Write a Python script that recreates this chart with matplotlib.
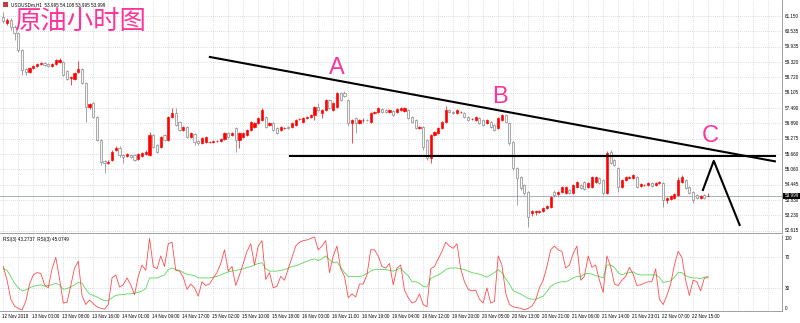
import matplotlib.pyplot as plt
from matplotlib.patches import Rectangle
import numpy as np

# hourly bars, USOUSD H1, 12 Nov 2018 .. 22 Nov 2018
opens = [61.11, 60.87, 60.99, 60.71, 60.47, 59.80, 59.04, 58.92, 59.08, 59.16,
         59.24, 59.28, 59.24, 59.16, 59.24, 59.32, 59.32, 58.96, 58.69, 58.65,
         58.92, 59.04, 58.49, 57.53, 57.69, 57.14, 56.22, 55.39, 55.31, 55.43,
         55.82, 55.90, 55.62, 55.59, 55.62, 55.62, 55.47, 55.59, 55.66, 55.62,
         56.42, 56.02, 55.94, 56.42, 56.22, 57.14, 57.29, 56.94, 56.62, 56.74,
         56.34, 56.46, 56.18, 56.10, 56.14, 56.14, 56.14, 56.16, 56.18, 56.26,
         56.50, 56.42, 56.70, 56.22, 56.34, 56.42, 56.62, 56.74, 56.90, 57.02,
         57.14, 56.82, 56.90, 56.70, 56.62, 56.70, 56.74, 56.74, 56.82, 57.06,
         56.94, 57.10, 57.14, 57.21, 57.53, 57.29, 57.41, 57.81, 57.41, 57.53,
         58.09, 58.09, 57.81, 56.90, 57.10, 56.90, 57.02, 57.03, 56.94, 57.29,
         57.33, 57.45, 57.41, 57.33, 57.37, 57.33, 57.41, 57.37, 57.41, 57.14,
         57.02, 56.70, 56.74, 56.22, 55.51, 56.42, 56.50, 56.70, 56.94, 57.41,
         57.33, 57.29, 57.33, 57.29, 57.14, 57.06, 57.02, 57.10, 57.02, 56.90,
         56.94, 56.82, 56.70, 57.02, 57.21, 56.90, 56.14, 55.11, 54.75, 54.43,
         54.15, 53.32, 53.36, 53.36, 53.40, 53.52, 53.56, 54.15, 54.07, 54.15,
         54.11, 54.23, 54.11, 54.35, 54.43, 54.55, 54.35, 54.35, 54.55, 54.71,
         54.63, 54.11, 55.74, 55.43, 55.11, 54.35, 54.63, 54.71, 54.71, 54.75,
         54.39, 54.43, 54.43, 54.51, 54.43, 54.51, 54.51, 53.84, 53.88, 53.91,
         54.03, 54.55, 54.63, 54.35, 54.15, 54.03, 53.91, 54.03, 53.995]
highs = [61.31, 61.07, 61.07, 60.79, 60.51, 59.84, 59.08, 59.12, 59.20, 59.28,
         59.32, 59.32, 59.28, 59.28, 59.44, 59.48, 59.36, 59.00, 58.76, 58.92,
         59.36, 59.08, 58.53, 57.69, 57.73, 57.18, 56.26, 55.43, 55.43, 55.82,
         55.98, 55.98, 55.66, 55.70, 55.66, 55.66, 55.70, 55.74, 55.82, 56.54,
         56.46, 56.06, 56.38, 56.46, 57.18, 57.49, 57.49, 56.98, 56.78, 56.78,
         56.54, 56.50, 56.22, 56.34, 56.38, 56.18, 56.22, 56.22, 56.30, 56.54,
         56.54, 56.54, 56.74, 56.54, 56.54, 56.66, 56.98, 56.94, 57.14, 57.49,
         57.18, 56.94, 56.94, 56.74, 56.78, 56.74, 56.78, 56.94, 57.06, 57.10,
         57.14, 57.18, 57.25, 57.57, 57.69, 57.45, 57.85, 57.85, 57.73, 58.13,
         58.13, 58.17, 57.85, 57.06, 57.14, 57.06, 57.10, 57.06, 57.33, 57.37,
         57.53, 57.49, 57.45, 57.45, 57.41, 57.49, 57.53, 57.53, 57.45, 57.18,
         57.06, 56.78, 56.78, 56.26, 56.46, 56.58, 56.74, 56.98, 57.57, 57.45,
         57.37, 57.45, 57.37, 57.33, 57.18, 57.10, 57.18, 57.14, 57.06, 57.06,
         56.98, 56.86, 57.14, 57.25, 57.25, 56.94, 56.18, 55.15, 54.79, 54.47,
         54.19, 53.44, 53.44, 53.44, 53.56, 53.64, 53.99, 54.23, 54.19, 54.39,
         54.39, 54.27, 54.47, 54.59, 54.47, 54.59, 54.55, 54.79, 54.79, 54.75,
         54.67, 55.78, 55.82, 55.47, 55.15, 54.67, 54.79, 54.79, 54.87, 54.79,
         54.51, 54.47, 54.55, 54.55, 54.55, 54.59, 54.55, 53.95, 54.03, 54.11,
         54.75, 54.83, 54.67, 54.39, 54.19, 54.07, 54.03, 54.07, 54.108]
lows = [60.87, 60.79, 60.59, 60.20, 59.72, 58.80, 58.80, 58.88, 59.04, 59.12,
        59.20, 59.16, 59.12, 59.12, 59.20, 59.28, 58.76, 58.61, 58.41, 58.61,
        58.88, 58.45, 56.94, 57.45, 57.10, 56.18, 55.23, 54.91, 55.27, 55.39,
        55.78, 55.55, 55.31, 55.55, 55.51, 55.39, 55.43, 55.55, 55.62, 55.59,
        55.90, 55.70, 55.90, 56.18, 56.18, 57.10, 56.78, 56.58, 56.58, 56.30,
        56.30, 56.02, 56.02, 56.06, 56.10, 56.10, 56.10, 56.13, 56.14, 56.22,
        56.30, 56.38, 55.74, 55.90, 56.30, 56.38, 56.58, 56.70, 56.86, 56.98,
        56.70, 56.78, 56.58, 56.46, 56.58, 56.66, 56.66, 56.70, 56.78, 57.02,
        56.90, 57.06, 57.10, 57.02, 57.37, 57.10, 57.37, 57.45, 57.37, 57.49,
        57.77, 57.93, 56.78, 56.10, 56.50, 56.86, 56.94, 56.98, 56.90, 57.25,
        57.29, 57.29, 57.29, 57.29, 57.17, 57.29, 57.37, 57.33, 57.06, 56.90,
        56.66, 56.66, 55.82, 55.43, 55.31, 56.38, 56.46, 56.66, 56.90, 57.29,
        57.25, 57.25, 57.29, 57.10, 56.98, 57.02, 56.98, 56.86, 56.78, 56.86,
        56.70, 56.58, 56.66, 56.98, 56.90, 56.02, 55.03, 53.64, 54.23, 54.03,
        52.76, 53.20, 53.24, 53.32, 53.36, 53.48, 53.52, 53.95, 54.03, 54.11,
        54.07, 54.07, 54.07, 54.31, 54.27, 54.23, 54.31, 54.31, 54.51, 54.47,
        54.03, 54.07, 55.27, 55.19, 54.15, 54.31, 54.59, 54.67, 54.67, 54.31,
        54.35, 54.39, 54.39, 54.35, 54.39, 54.47, 53.56, 53.72, 53.84, 53.88,
        53.99, 54.51, 54.27, 54.07, 53.72, 53.88, 53.88, 53.88, 53.995]
closes = [60.95, 60.99, 60.71, 60.47, 59.80, 59.00, 58.92, 59.08, 59.16, 59.24,
          59.28, 59.20, 59.16, 59.24, 59.40, 59.40, 58.80, 58.65, 58.72, 58.88,
          59.04, 58.49, 57.53, 57.65, 57.14, 56.22, 55.35, 55.31, 55.35, 55.74,
          55.90, 55.62, 55.55, 55.66, 55.55, 55.43, 55.66, 55.70, 55.74, 56.42,
          55.94, 55.74, 56.34, 56.22, 57.14, 57.29, 56.82, 56.62, 56.74, 56.34,
          56.50, 56.14, 56.10, 56.30, 56.34, 56.15, 56.18, 56.19, 56.26, 56.50,
          56.34, 56.50, 56.22, 56.50, 56.50, 56.62, 56.94, 56.90, 57.10, 57.41,
          56.74, 56.90, 56.62, 56.50, 56.74, 56.71, 56.70, 56.90, 57.02, 57.07,
          57.10, 57.14, 57.21, 57.53, 57.41, 57.41, 57.81, 57.49, 57.69, 58.09,
          57.81, 57.97, 56.90, 57.02, 56.90, 57.02, 57.03, 57.02, 57.29, 57.33,
          57.49, 57.33, 57.33, 57.41, 57.21, 57.45, 57.49, 57.49, 57.10, 56.94,
          56.70, 56.74, 55.94, 55.51, 56.42, 56.54, 56.70, 56.94, 57.41, 57.33,
          57.29, 57.41, 57.34, 57.14, 57.02, 57.07, 57.14, 56.90, 56.82, 57.02,
          56.74, 56.62, 57.10, 57.21, 56.94, 56.10, 55.11, 54.71, 54.31, 54.11,
          53.16, 53.40, 53.40, 53.40, 53.52, 53.60, 53.95, 54.03, 54.15, 54.35,
          54.35, 54.11, 54.43, 54.55, 54.31, 54.27, 54.51, 54.75, 54.75, 54.51,
          54.11, 55.70, 55.31, 55.23, 54.35, 54.63, 54.75, 54.75, 54.83, 54.35,
          54.47, 54.44, 54.51, 54.39, 54.51, 54.55, 53.84, 53.91, 53.99, 54.07,
          54.63, 54.75, 54.31, 54.11, 53.84, 53.91, 53.99, 53.91, 53.999]

rsi_fast = [58, 40, 15, 6, 3, 1, 12, 35, 47, 50,
            49, 34, 30, 55, 70, 42, 10, 11, 33, 56,
            65, 20, 8, 14, 9, 5, 3, 2, 8, 43,
            47, 31, 34, 43, 34, 21, 45, 60, 53, 95,
            58, 55, 72, 58, 88, 90, 53, 52, 44, 28,
            35, 30, 19, 38, 33, 35, 43, 50, 62, 80,
            52, 58, 33, 47, 62, 78, 88, 60, 85, 92,
            41, 50, 30, 32, 45, 40, 55, 70, 85, 90,
            92, 93, 95, 97, 80, 85, 92, 50, 72, 85,
            55, 45, 17, 22, 18, 35, 35, 47, 80, 80,
            72, 58, 56, 62, 34, 56, 60, 27, 17, 10,
            12, 22, 8, 5, 55, 58, 68, 78, 90, 85,
            82, 88, 55, 38, 28, 26, 27, 15, 10, 30,
            10, 12, 72, 60, 23, 8, 5, 4, 3, 1,
            3, 6, 14, 30, 40, 58, 80, 85, 80, 78,
            56, 60, 75, 85, 40, 45, 72, 57, 60, 40,
            24, 72, 58, 35, 33, 40, 45, 57, 48, 33,
            34, 36, 38, 38, 55, 15, 8, 20, 35, 60,
            78, 70, 40, 20, 40, 38, 26, 43, 43.27]
rsi_slow = [55, 53, 45, 36, 30, 26, 27, 30, 32, 33,
            34, 32, 33, 34, 36, 34, 28, 29, 31, 34,
            37, 36, 28, 22, 20, 18, 15, 13, 13, 17,
            20, 21, 21, 22, 22, 23, 24, 26, 29, 43,
            43, 43, 45, 47, 54, 56, 54, 53, 50, 48,
            47, 46, 43, 43, 43, 43, 44, 45, 47, 49,
            51, 52, 53, 54, 55, 57, 58, 60, 62, 63,
            55, 52, 52, 52, 53, 54, 56, 58, 59, 61,
            63, 65, 67, 68, 66, 68, 72, 67, 63, 64,
            57, 50, 45, 45, 45, 45, 46, 49, 52, 54,
            54, 54, 54, 53, 52, 54, 56, 50, 46, 38,
            38, 36, 32, 31, 42, 45, 47, 50, 54, 56,
            56, 56, 55, 54, 52, 50, 49, 48, 46, 44,
            47, 50, 54, 50, 42, 35, 26, 24, 22, 19,
            16, 15, 15, 17, 19, 25, 32, 35, 37, 38,
            38, 40, 43, 45, 45, 48, 49, 48, 46, 45,
            43, 60, 60, 57, 50, 47, 49, 50, 51, 48,
            47, 47, 47, 47, 47, 44, 37, 38, 39, 44,
            50, 50, 46, 44, 43, 43, 42, 44, 45.07]

time_labels = ['12 Nov 2018', '13 Nov 00:00', '13 Nov 08:00', '13 Nov 16:00',
               '14 Nov 01:00', '14 Nov 09:00', '14 Nov 17:00', '15 Nov 02:00',
               '15 Nov 10:00', '15 Nov 18:00', '16 Nov 03:00', '16 Nov 11:00',
               '16 Nov 19:00', '19 Nov 04:00', '19 Nov 12:00', '19 Nov 20:00',
               '20 Nov 05:00', '20 Nov 13:00', '20 Nov 21:00', '21 Nov 06:00',
               '21 Nov 14:00', '21 Nov 23:01', '22 Nov 07:00', '22 Nov 15:00']
price_ticks = [61.150, 60.535, 59.935, 59.320, 58.720, 58.105, 57.490, 56.890,
               56.275, 55.660, 55.060, 54.445, 53.830, 53.230, 52.615]
rsi_ticks = [100, 70, 30, 0]
bid = 53.999

pink = '#ff3399'
red = '#ff0000'
gry = '#808080'
grid_c = '#b8bcc8'
fs = 3.3
small_font = 'Liberation Sans'

W, H = 800.0, 323.0
fig = plt.figure(figsize=(8, 3.23), dpi=100)
fig.patch.set_facecolor('white')

# main price panel and RSI panel (positions in pixels of the 800x323 picture)
ax = fig.add_axes([0, 1 - 233 / H, 782 / W, 233 / H])
ax2 = fig.add_axes([0, 1 - 311 / H, 782 / W, 76 / H])

xmin, xmax = -0.88, 207.7
n = len(closes)
x = np.arange(n)

for a in (ax, ax2):
    a.set_xlim(xmin, xmax)
    a.set_xticks([])
    a.set_yticks([])
    for s in a.spines.values():
        s.set_color('#909090')
        s.set_linewidth(0.6)
    a.spines['left'].set_visible(False)
    a.spines['top'].set_visible(False)
    for gx in np.arange(0, xmax, 4):
        a.axvline(gx, color=grid_c, lw=0.5, ls=(0, (1, 2)), zorder=0)

ax.set_ylim(52.52, 61.786)
ax2.set_ylim(-0.5, 99.5)

for p in price_ticks:
    ax.axhline(p, color=grid_c, lw=0.5, ls=(0, (1, 2)), zorder=0)
for r in (70, 30):
    ax2.axhline(r, color=grid_c, lw=0.5, ls=(0, (1, 2)), zorder=0)

# candles
for i in range(n):
    o, h, l, c = opens[i], highs[i], lows[i], closes[i]
    up = c >= o
    col = red if up else gry
    ax.vlines(i, l, h, color=col, lw=0.5, zorder=2)
    body = max(abs(c - o), 0.012)
    ax.add_patch(Rectangle((i - 0.28, min(o, c)), 0.56, body,
                           facecolor=red if up else '#f4f4f4',
                           edgecolor=col, lw=0.45, zorder=3))

# bid line
ax.axhline(bid, color='#a8b0c0', lw=0.7, zorder=1)

# drawn objects
ax.plot([55.1, 205.8], [59.52, 55.37], color='black', lw=1.5, clip_on=False, zorder=5)
ax.plot([76.5, 205.8], [55.60, 55.60], color='black', lw=1.5, clip_on=False, zorder=5)
ax.plot([186.6, 189.5, 196.4], [54.23, 55.39, 52.84], color='black', lw=1.5,
        clip_on=False, zorder=5)

# RSI lines
ax2.plot(x, rsi_slow, color='#33cc33', lw=0.6, alpha=0.8)
ax2.plot(x, rsi_fast, color='#ff2020', lw=0.6, alpha=0.8)


def px(xp, yp):
    return xp / W, 1 - yp / H


# right scale labels
for p in price_ticks:
    yp = (61.786 - p) / 0.03975
    fig.text(*px(785, yp), '%.3f' % p, fontsize=fs, va='center', ha='left',
             family=small_font)
yb = (61.786 - bid) / 0.03975
fig.patches.append(Rectangle(px(783, yb + 3.2), 17 / W, 6.4 / H, transform=fig.transFigure,
                             facecolor='black', edgecolor='none'))
fig.text(*px(785, yb), '%.3f' % bid, fontsize=fs, va='center', ha='left', color='white',
         family=small_font)
for r in rsi_ticks:
    yp = 311.3 - r * 0.765
    yp = min(max(yp, 238), 308)
    fig.text(*px(785, yp), str(r), fontsize=fs, va='center', ha='left',
             family=small_font)

# time labels
for k, t in enumerate(time_labels):
    xp = 3.3 + 3.75 * 8 * k
    fig.text(*px(xp - 1, 316.5), t, fontsize=fs, va='center', ha='left',
             family=small_font)

# headers
fig.text(*px(11, 4.5), 'USOUSDm,H1  53.995 54.108 53.995 53.999', fontsize=fs,
         va='center', ha='left', family=small_font)
fig.patches.append(Rectangle(px(3, 7), 5 / W, 5 / H, transform=fig.transFigure,
                             facecolor='#c04040', edgecolor='none'))
fig.text(*px(3, 239), 'RSI(3) 43.2737  RSI(3) 45.0749', fontsize=fs,
         va='center', ha='left', family=small_font)

fig.text(*px(14, 21), '原油小时图', fontsize=19, color=pink, va='center', ha='left',
         family=['Noto Sans CJK SC', 'DejaVu Sans'])
for letter, xp, yp in (('A', 337, 68), ('B', 500, 97), ('C', 710, 136)):
    fig.text(*px(xp, yp), letter, fontsize=17, color=pink, va='center', ha='center',
             family='Liberation Sans')

fig.savefig('out.png', dpi=100)
